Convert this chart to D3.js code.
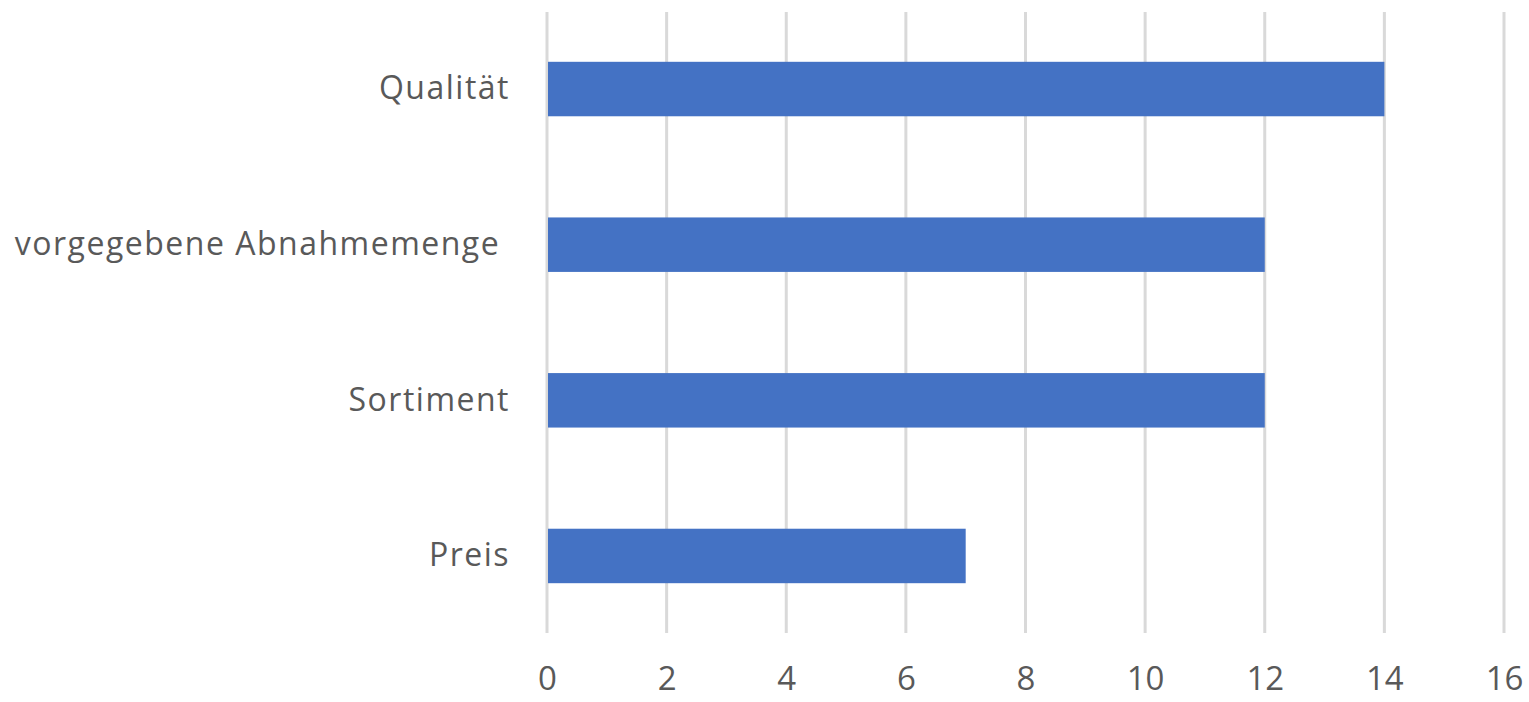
<!DOCTYPE html>
<html>
<head>
    <meta charset="utf-8">
</head>
<body style="margin:0;background:#fff">
    <svg id="chart"></svg>
</body>
</html>

<style>
    text {
        font-family: "Open Sans", sans-serif;
        fill: #595959;
    }
    .grid line {
        stroke: #d9d9d9;
        stroke-width: 3;
    }
</style>

<script src="https://cdn.jsdelivr.net/npm/d3@7"></script>
<script>
    "use strict"
    const categories = ["Qualität", "vorgegebene Abnahmemenge ", "Sortiment", "Preis"];
    const values = [14, 12, 12, 7];
    const xTicks = [0, 2, 4, 6, 8, 10, 12, 14, 16];

    const width = 1529;
    const height = 702;
    const margin = { top: 12, right: 25, bottom: 69, left: 547 };

    const svg = d3.select("#chart")
        .attr("width", width)
        .attr("height", height);

    const x = d3.scaleLinear()
        .domain([0, 16])
        .range([margin.left, width - margin.right]);

    const y = d3.scaleBand()
        .domain(categories)
        .range([margin.top, height - margin.bottom])
        .paddingInner(0.65)
        .paddingOuter(0.32);

    // vertical gridlines
    svg.append("g")
        .attr("class", "grid")
        .selectAll("line")
        .data(xTicks)
        .join("line")
        .attr("x1", d => x(d))
        .attr("x2", d => x(d))
        .attr("y1", margin.top)
        .attr("y2", height - margin.bottom);

    // bars
    svg.append("g")
        .selectAll("rect")
        .data(values)
        .join("rect")
        .attr("x", x(0) + 1)
        .attr("y", (d, i) => y(categories[i]))
        .attr("width", d => x(d) - x(0) - 1)
        .attr("height", y.bandwidth())
        .attr("fill", "#4472c4");

    // x axis labels
    const xAxis = d3.axisBottom(x).tickValues(xTicks).tickSize(0).tickPadding(34);
    svg.append("g")
        .attr("transform", `translate(0,${height - margin.bottom})`)
        .call(xAxis)
        .call(g => g.select(".domain").remove())
        .selectAll("text")
        .style("font-size", "33px");

    // category labels (white-space kept so the trailing space shifts the label like the original)
    const yAxis = d3.axisLeft(y).tickSize(0).tickPadding(37);
    svg.append("g")
        .attr("transform", `translate(${margin.left},0)`)
        .call(yAxis)
        .call(g => g.select(".domain").remove())
        .selectAll("text")
        .style("white-space", "pre")
        .style("font-size", "32px")
        .style("letter-spacing", "1.5px");
</script>
